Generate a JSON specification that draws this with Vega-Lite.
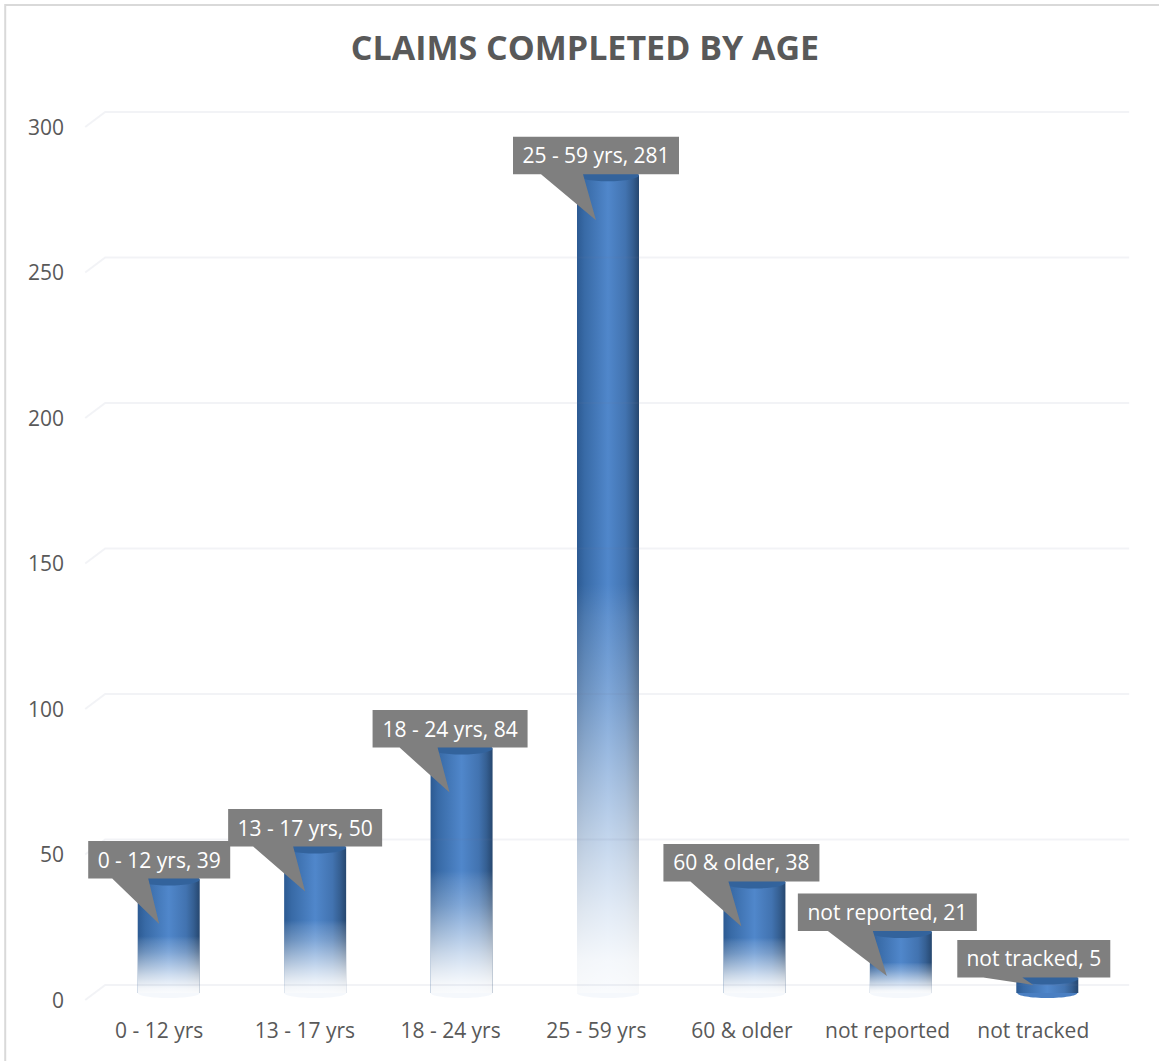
{
"$schema":"https://vega.github.io/schema/vega-lite/v6.json",
"autosize":"none",
"padding":{"left":95.5,"top":120,"right":38.5,"bottom":68},
"width":1025,"height":873,
"background":"#ffffff",
"config":{"view":{"stroke":null},"font":"Open Sans"},
"title":{"text":"CLAIMS COMPLETED BY AGE","font":"Open Sans","fontSize":34,"fontWeight":"bold","color":"#595959","anchor":"middle","frame":"group","dx":-23,"offset":-66},
"data":{"values":[
{"age":"0 - 12 yrs","value":39,"label":"0 - 12 yrs, 39"},
{"age":"13 - 17 yrs","value":50,"label":"13 - 17 yrs, 50"},
{"age":"18 - 24 yrs","value":84,"label":"18 - 24 yrs, 84"},
{"age":"25 - 59 yrs","value":281,"label":"25 - 59 yrs, 281"},
{"age":"60 & older","value":38,"label":"60 & older, 38"},
{"age":"not reported","value":21,"label":"not reported, 21"},
{"age":"not tracked","value":5,"label":"not tracked, 5"}
]},
"encoding":{
"x":{"field":"age","type":"nominal","sort":null,"scale":{"paddingInner":0,"paddingOuter":0},"axis":{"title":null,"labelAngle":0,"domain":false,"ticks":false,"labelPadding":27,"labelOffset":{"expr":"-9.5-4.5*datum.index"},"labelFontSize":21,"labelColor":"#595959","labelFont":"Open Sans"}},
"y":{"field":"value","type":"quantitative","scale":{"domain":[0,300]},"axis":{"title":null,"grid":false,"domain":false,"ticks":false,"values":[0,50,100,150,200,250,300],"labelOffset":8,"labelPadding":32,"labelFontSize":21,"labelColor":"#595959","labelFont":"Open Sans"}}
},
"layer":[
{"data":{"values":[{"edge":0}]},"mark":{"type":"point","shape":"M-163.5,68L-163.5,-988L991,-988","size":4,"filled":false,"opacity":1,"stroke":"#d9d9d9","strokeWidth":2},"encoding":{"x":{"datum":"0 - 12 yrs"},"y":{"field":"edge","type":"quantitative"}}},
{"transform":[{"filter":"datum.value > 5"}],"mark":{"type":"point","shape":"M-31,0A31,5 0 1 0 31,0A31,5 0 1 0 -31,0Z","size":4,"filled":true,"opacity":1,"fill":"#f5f8fc","strokeWidth":0},"encoding":{"y":{"datum":0}}},
{"transform":[{"filter":"datum.value <= 5"}],"mark":{"type":"point","shape":"M-30,0A30,5 0 1 0 30,0A30,5 0 1 0 -30,0Z","size":4,"filled":true,"opacity":1,"fill":"#4a7fc2","strokeWidth":0},"encoding":{"y":{"datum":0}}},
{"mark":{"type":"bar","size":62,"fill":{"x1":0,"y1":0,"x2":1,"y2":0,"gradient":"linear","stops":[{"offset":0,"color":"#2c5a92"},{"offset":0.12,"color":"#386aa6"},{"offset":0.5,"color":"#5087cb"},{"offset":0.78,"color":"#4273b0"},{"offset":0.9,"color":"#355f92"},{"offset":1,"color":"#26476f"}]}}},
{"transform":[{"filter":"datum.value > 5"}],"mark":{"type":"bar","size":62,"fill":{"x1":0,"y1":0,"x2":0,"y2":1,"gradient":"linear","stops":[{"offset":0,"color":"rgba(255,255,255,0)"},{"offset":0.5,"color":"rgba(255,255,255,0)"},{"offset":0.54,"color":"rgba(255,255,255,0.1)"},{"offset":0.64,"color":"rgba(255,255,255,0.28)"},{"offset":0.74,"color":"rgba(255,255,255,0.5)"},{"offset":0.84,"color":"rgba(255,255,255,0.72)"},{"offset":0.9,"color":"rgba(255,255,255,0.84)"},{"offset":0.96,"color":"rgba(255,255,255,0.94)"},{"offset":1,"color":"rgba(255,255,255,0.97)"}]}}},
{"mark":{"type":"point","shape":"M-31,0A31,6 0 1 0 31,0A31,6 0 1 0 -31,0Z","size":4,"filled":true,"opacity":1,"fill":"#33639c","strokeWidth":0}},
{"data":{"values":[{"tick":0},{"tick":50},{"tick":100},{"tick":150},{"tick":200},{"tick":250},{"tick":300}]},"mark":{"type":"point","shape":"M-83.5,7L-63.5,-8L960.5,-8","size":4,"filled":false,"opacity":1,"stroke":"#6a7f9f","strokeOpacity":0.09,"strokeWidth":2},"encoding":{"x":{"datum":"0 - 12 yrs"},"y":{"field":"tick","type":"quantitative"}}},
{"mark":{"type":"point","size":4,"filled":true,"opacity":1,"fill":"#7f7f7f","strokeWidth":0},
"encoding":{"shape":{"field":"age","type":"nominal","legend":null,"scale":{"domain":["0 - 12 yrs","13 - 17 yrs","18 - 24 yrs","25 - 59 yrs","60 & older","not reported","not tracked"],"range":[
"M-80.5,-38.5L61.5,-38.5L61.5,-1L-20.5,-1L-9.5,44.5L-56.5,-1L-80.5,-1Z",
"M-87,-38.5L67,-38.5L67,-1L-22,-1L-10,44L-62,-1L-87,-1Z",
"M-89,-38.5L66,-38.5L66,-1L-24,-1L-12,44L-62,-1L-89,-1Z",
"M-95,-38.5L71,-38.5L71,-1L-25,-1L-12,45L-67,-1L-95,-1Z",
"M-91,-38.5L65,-38.5L65,-1L-26,-1L-13,44L-64,-1L-91,-1Z",
"M-103,-38.5L76,-38.5L76,-1L-28,-1L-14,44L-73,-1L-103,-1Z",
"M-90,-38.5L63,-38.5L63,-1L-25,-1L-14,6.5L-64,-1L-90,-1Z"
]}}}},
{"mark":{"type":"text","font":"Open Sans","fontSize":21,"color":"#ffffff","align":"center","baseline":"middle","yOffset":-18,"dx":{"expr":"{'0 - 12 yrs':-9.5,'13 - 17 yrs':-10,'18 - 24 yrs':-11.5,'25 - 59 yrs':-12,'60 & older':-13,'not reported':-13.5,'not tracked':-13.5}[datum.age]"}},
"encoding":{"text":{"field":"label","type":"nominal"}}}
]
}
